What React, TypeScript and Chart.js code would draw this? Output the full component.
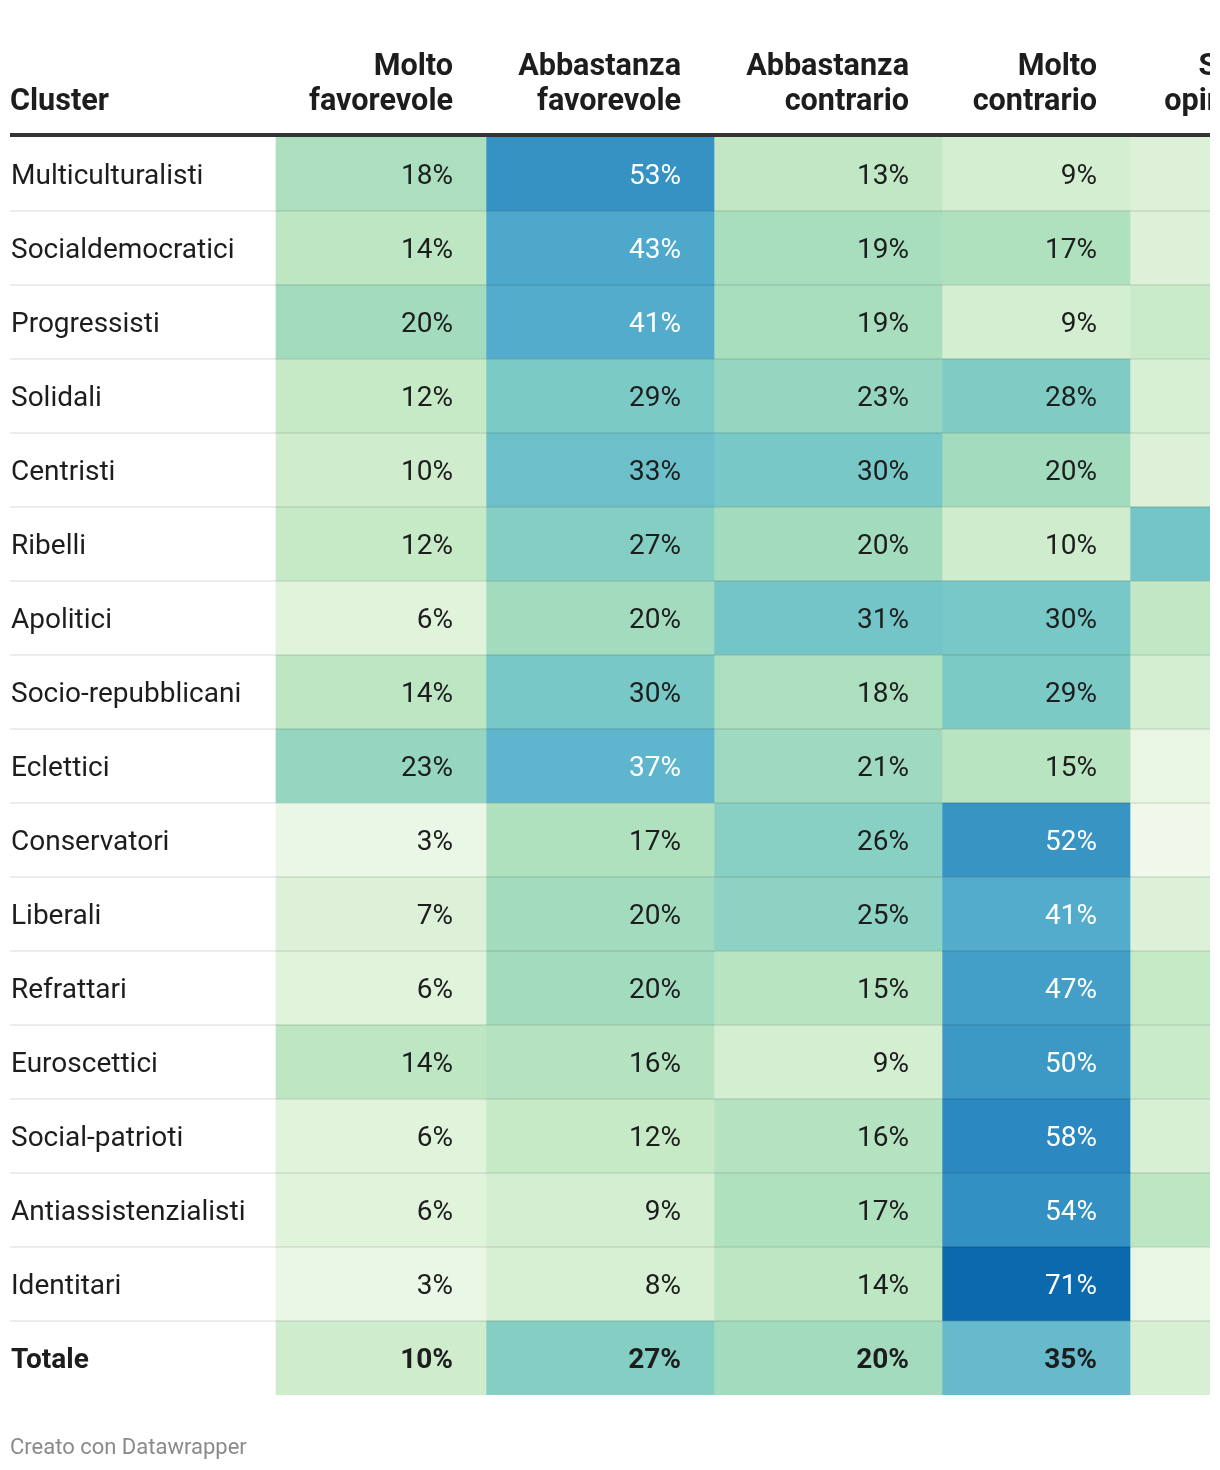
import React, { useEffect, useRef } from 'react';
import { Chart, registerables } from 'chart.js';

Chart.register(...registerables);

// ---------- DATA ----------
const clusters = [
  'Multiculturalisti', 'Socialdemocratici', 'Progressisti', 'Solidali', 'Centristi',
  'Ribelli', 'Apolitici', 'Socio-repubblicani', 'Eclettici', 'Conservatori',
  'Liberali', 'Refrattari', 'Euroscettici', 'Social-patrioti', 'Antiassistenzialisti',
  'Identitari', 'Totale',
];
const labelHeader = 'Cluster';
const columnHeaders = [
  ['Molto', 'favorevole'],
  ['Abbastanza', 'favorevole'],
  ['Abbastanza', 'contrario'],
  ['Molto', 'contrario'],
  ['Senza', 'opinione'],
];
const moltoFavorevole = [18, 14, 20, 12, 10, 12, 6, 14, 23, 3, 7, 6, 14, 6, 6, 3, 10];
const abbastanzaFavorevole = [53, 43, 41, 29, 33, 27, 20, 30, 37, 17, 20, 20, 16, 12, 9, 8, 27];
const abbastanzaContrario = [13, 19, 19, 23, 30, 20, 31, 18, 21, 26, 25, 15, 9, 16, 17, 14, 20];
const moltoContrario = [9, 17, 9, 28, 20, 10, 30, 29, 15, 52, 41, 47, 50, 58, 54, 71, 35];
const senzaOpinione = [7, 7, 11, 8, 7, 31, 13, 9, 4, 2, 7, 12, 11, 8, 14, 4, 8];
const footerText = 'Creato con Datawrapper';

const series = [moltoFavorevole, abbastanzaFavorevole, abbastanzaContrario, moltoContrario, senzaOpinione];

// ---------- LAYOUT / STYLE ----------
const W = 1220;
const H = 1470;
const TABLE_LEFT = 10;
const TABLE_RIGHT = 1210;
const TABLE_TOP = 137;
const TABLE_BOTTOM = 1395;
// column edges in table units (px from table left)
const columnEdges = [266, 476, 704, 932, 1120, 1306];
const CELL_PAD = 33;
const FONT = 'Roboto, "Noto Sans", Arial, sans-serif';
const TEXT = '#1d1d1d';

const colorStops: [number, string][] = [
  [2, '#eff8ea'], [6, '#e0f3db'], [12, '#c6e9c6'], [18, '#acdfbd'], [24, '#91d4c2'],
  [30, '#77c8c6'], [37, '#5fb5cd'], [45, '#47a3ca'], [53, '#3592c2'], [58, '#2b88c0'],
  [71, '#0b69ae'],
];

function hexToRgb(h: string) {
  const n = parseInt(h.slice(1), 16);
  return [(n >> 16) & 255, (n >> 8) & 255, n & 255];
}
function colorFor(v: number) {
  if (v <= colorStops[0][0]) return colorStops[0][1];
  for (let i = 1; i < colorStops.length; i++) {
    const [v1, c1] = colorStops[i];
    if (v <= v1) {
      const [v0, c0] = colorStops[i - 1];
      const t = (v - v0) / (v1 - v0);
      const a = hexToRgb(c0);
      const b = hexToRgb(c1);
      const m = a.map((x, k) => Math.round(x + (b[k] - x) * t));
      return `rgb(${m[0]},${m[1]},${m[2]})`;
    }
  }
  return colorStops[colorStops.length - 1][1];
}

const tablePlugin = {
  id: 'tableDecor',
  afterDatasetsDraw(chart: any) {
    const { ctx, chartArea, scales } = chart;
    const y = scales.y;
    const x = scales.x;
    const band = (y.getPixelForValue(1) - y.getPixelForValue(0));
    ctx.save();
    ctx.beginPath();
    ctx.rect(0, 0, TABLE_RIGHT, H);
    ctx.clip();
    // row separators
    ctx.fillStyle = 'rgba(0,0,0,0.075)';
    for (let i = 1; i < clusters.length; i++) {
      const yb = Math.round(y.getPixelForValue(i) - band / 2);
      ctx.fillRect(chartArea.left, yb - 1, chartArea.right - chartArea.left, 2);
    }
    // cell values
    ctx.textBaseline = 'middle';
    ctx.textAlign = 'right';
    series.forEach((vals, c) => {
      const xr = x.getPixelForValue(columnEdges[c + 1]) - CELL_PAD;
      vals.forEach((v, r) => {
        const isTotal = r === clusters.length - 1;
        ctx.font = `${isTotal ? 'bold ' : ''}28px ${FONT}`;
        ctx.fillStyle = v >= 37 ? '#ffffff' : TEXT;
        ctx.fillText(`${v}%`, xr, y.getPixelForValue(r) + 3);
      });
    });
    // header
    ctx.fillStyle = '#333333';
    ctx.fillRect(chartArea.left, TABLE_TOP - 4, chartArea.right - chartArea.left, 4);
    ctx.fillStyle = TEXT;
    ctx.font = `bold 30.6px ${FONT}`;
    ctx.textBaseline = 'alphabetic';
    ctx.textAlign = 'left';
    ctx.fillText(labelHeader, chartArea.left, 110);
    ctx.textAlign = 'right';
    columnHeaders.forEach((lines, c) => {
      const xr = x.getPixelForValue(columnEdges[c + 1]) - CELL_PAD;
      ctx.fillText(lines[0], xr, 75);
      ctx.fillText(lines[1], xr, 110);
    });
    ctx.restore();
    // footer
    ctx.save();
    ctx.fillStyle = '#8a8a8a';
    ctx.font = `22px ${FONT}`;
    ctx.textAlign = 'left';
    ctx.textBaseline = 'middle';
    ctx.fillText(footerText, chartArea.left, 1448);
    ctx.restore();
  },
};

export default function App() {
  const ref = useRef<HTMLCanvasElement>(null);
  useEffect(() => {
    if (!ref.current) return;
    const datasets = series.map((vals, c) => ({
      label: columnHeaders[c].join(' '),
      data: vals.map(() => [columnEdges[c], columnEdges[c + 1]]),
      backgroundColor: vals.map(colorFor),
      borderWidth: 0,
      barPercentage: 1,
      categoryPercentage: 1,
      grouped: false,
      borderSkipped: false,
    }));
    const chart = new Chart(ref.current, {
      type: 'bar',
      data: { labels: clusters, datasets: datasets as any },
      options: {
        indexAxis: 'y',
        animation: false,
        responsive: false,
        devicePixelRatio: 1,
        layout: { padding: { left: TABLE_LEFT, right: W - TABLE_RIGHT, top: TABLE_TOP, bottom: H - TABLE_BOTTOM } },
        plugins: { legend: { display: false }, tooltip: { enabled: false }, title: { display: false } },
        scales: {
          x: { type: 'linear', min: 0, max: TABLE_RIGHT - TABLE_LEFT, display: false },
          y: {
            type: 'category',
            offset: true,
            grid: { display: false },
            border: { display: false },
            afterFit: (s: any) => { s.width = 0; },
            ticks: {
              mirror: true,
              padding: 1,
              labelOffset: 3,
              color: TEXT,
              font: (ctx: any) => ({ family: FONT, size: 28, weight: ctx.index === clusters.length - 1 ? 'bold' : 'normal' }),
            },
          },
        },
      } as any,
      plugins: [tablePlugin],
    });
    return () => chart.destroy();
  }, []);
  return (
    <div style={{ position: 'absolute', left: 0, top: 0, width: W, height: H, background: '#fff' }}>
      <canvas ref={ref} width={W} height={H} style={{ width: W, height: H, display: 'block' }} />
    </div>
  );
}
